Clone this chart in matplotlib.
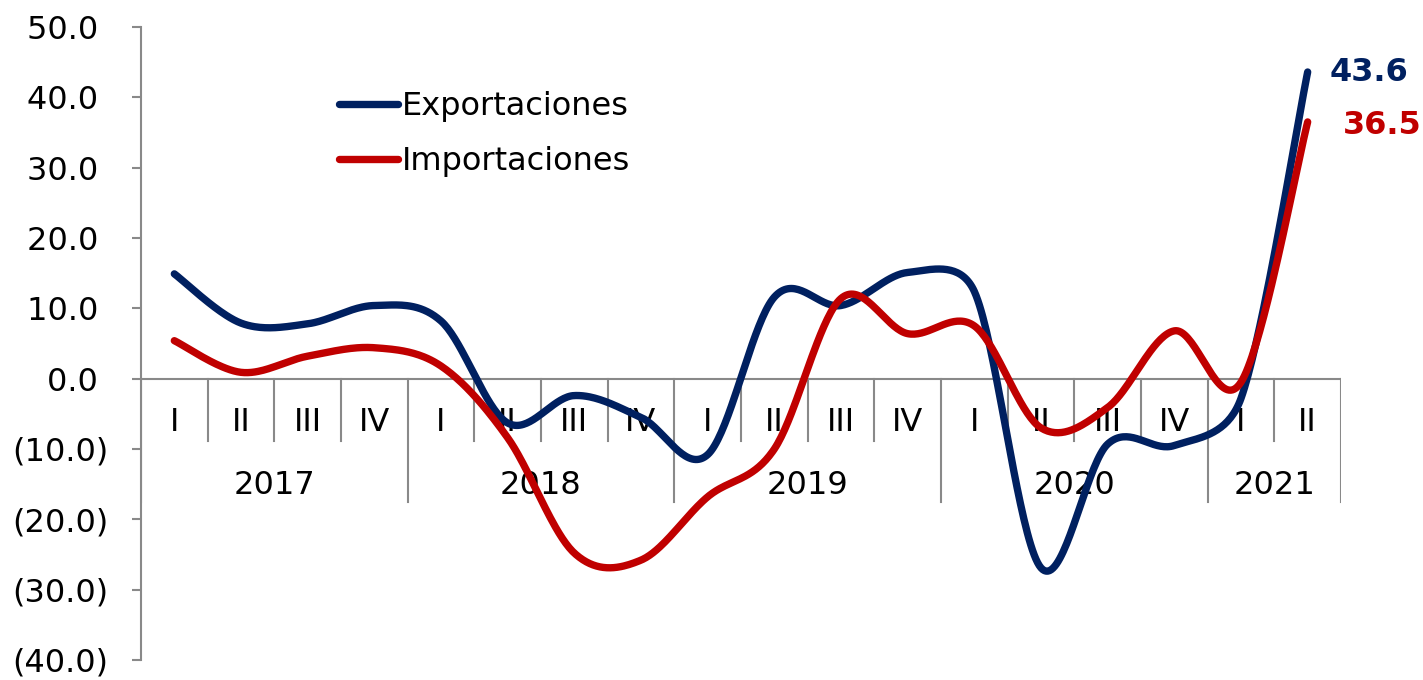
import numpy as np
import matplotlib
matplotlib.use("Agg")
import matplotlib.pyplot as plt
from matplotlib.ticker import FixedLocator, FuncFormatter

# ---------------- data ----------------
quarters = ["I", "II", "III", "IV",
            "I", "II", "III", "IV",
            "I", "II", "III", "IV",
            "I", "II", "III", "IV",
            "I", "II"]
years = ["2017", "2018", "2019", "2020", "2021"]
year_counts = [4, 4, 4, 4, 2]

exportaciones = [14.9, 7.9, 7.8, 10.4,
                 8.2, -6.3, -2.4, -5.5,
                 -10.8, 11.6, 10.4, 15.1,
                 12.4, -26.9, -9.3, -9.5,
                 -2.8, 43.6]
importaciones = [5.4, 0.9, 3.2, 4.4,
                 1.8, -8.4, -24.8, -25.8,
                 -16.8, -10.0, 11.4, 6.4,
                 7.5, -7.0, -4.1, 6.8,
                 -0.5, 36.5]

series_names = ["Exportaciones", "Importaciones"]
colors = ["#002060", "#C00000"]
y_ticks = [50, 40, 30, 20, 10, 0, -10, -20, -30, -40]

plt.rcParams['font.family'] = ['DejaVu Sans']
W, H = 1423, 680
fig = plt.figure(figsize=(W / 100, H / 100), dpi=100)
ax = fig.add_axes([141 / W, 1 - 660 / H, 1200 / W, 633 / H])

n = len(quarters)
xpos = np.arange(n) + 0.5
grey = "#898989"
fs = 23

ax.set_xlim(0, n)
ax.set_ylim(-40, 50)


def excel_smooth(ax, xs, ys, n=40):
    """Excel-like smoothed line: Bezier segments with control vectors
    (1/6 of neighbour chord) capped at half the segment length, in screen space."""
    pts = ax.transData.transform(np.column_stack([xs, ys]))
    P = np.vstack([pts[0], pts, pts[-1]])
    out = []
    t = np.linspace(0, 1, n)
    for i in range(1, len(P) - 2):
        p0, p1, p2, p3 = P[i - 1], P[i], P[i + 1], P[i + 2]
        d12 = np.linalg.norm(p2 - p1)
        d02 = np.linalg.norm(p2 - p0)
        d13 = np.linalg.norm(p3 - p1)
        f0 = 1 / 6 if d02 == 0 else min(1 / 6, d12 / (2 * d02))
        f1 = 1 / 6 if d13 == 0 else min(1 / 6, d12 / (2 * d13))
        c1 = p1 + (p2 - p0) * f0
        c2 = p2 - (p3 - p1) * f1
        seg = ((1 - t) ** 3)[:, None] * p1 + (3 * (1 - t) ** 2 * t)[:, None] * c1 \
            + (3 * (1 - t) * t ** 2)[:, None] * c2 + (t ** 3)[:, None] * p2
        out.append(seg if i == 1 else seg[1:])
    S = ax.transData.inverted().transform(np.vstack(out))
    return S[:, 0], S[:, 1]


for vals, name, col in zip([exportaciones, importaciones], series_names, colors):
    sx, sy = excel_smooth(ax, xpos, vals)
    ax.plot(sx, sy, color=col, lw=5.3, solid_capstyle='round', label=name,
            zorder=5, clip_on=False)

# data labels for last point
ax.annotate(f"{exportaciones[-1]:.1f}", (xpos[-1], exportaciones[-1]),
            xytext=(16, -0.5), textcoords='offset points', ha='left', va='center',
            color=colors[0], fontsize=fs, fontweight='bold')
ax.annotate(f"{importaciones[-1]:.1f}", (xpos[-1], importaciones[-1]),
            xytext=(25, -2.5), textcoords='offset points', ha='left', va='center',
            color=colors[1], fontsize=fs, fontweight='bold')

# y axis
ax.yaxis.set_major_locator(FixedLocator(y_ticks))
ax.yaxis.set_major_formatter(FuncFormatter(
    lambda v, p: f"({abs(v):.1f})" if v < 0 else f"{v:.1f} "))
ax.tick_params(axis='y', direction='out', length=6.5, width=1.5, color=grey,
               labelsize=fs, pad=17)
ax.set_xticks([])
for s in ['top', 'right', 'bottom']:
    ax.spines[s].set_visible(False)
ax.spines['left'].set_color(grey)
ax.spines['left'].set_linewidth(1.5)

# category axis at y=0
ax.axhline(0, color=grey, lw=1.5, zorder=2)
q_depth = -8.8
y_depth = -17.6
year_bounds = np.concatenate([[0], np.cumsum(year_counts)])
for i in range(n + 1):
    if i in year_bounds:
        ax.plot([i, i], [0, y_depth], color=grey, lw=1.5, zorder=2)
    else:
        ax.plot([i, i], [0, q_depth], color=grey, lw=1.5, zorder=2)
for x, q in zip(xpos, quarters):
    ax.text(x, -6.3, q, ha='center', va='center', fontsize=fs, zorder=3)
for k, yr in enumerate(years):
    xc = (year_bounds[k] + year_bounds[k + 1]) / 2
    ax.text(xc, -15.2, yr, ha='center', va='center', fontsize=fs, zorder=3)

leg = ax.legend(loc='upper left', bbox_to_anchor=(339 / W, 1 - 91 / H),
                bbox_transform=fig.transFigure, frameon=False, fontsize=fs,
                handlelength=1.85, handletextpad=0.12, labelspacing=0.75,
                borderpad=0, borderaxespad=0)

fig.savefig("out.png", dpi=100)
